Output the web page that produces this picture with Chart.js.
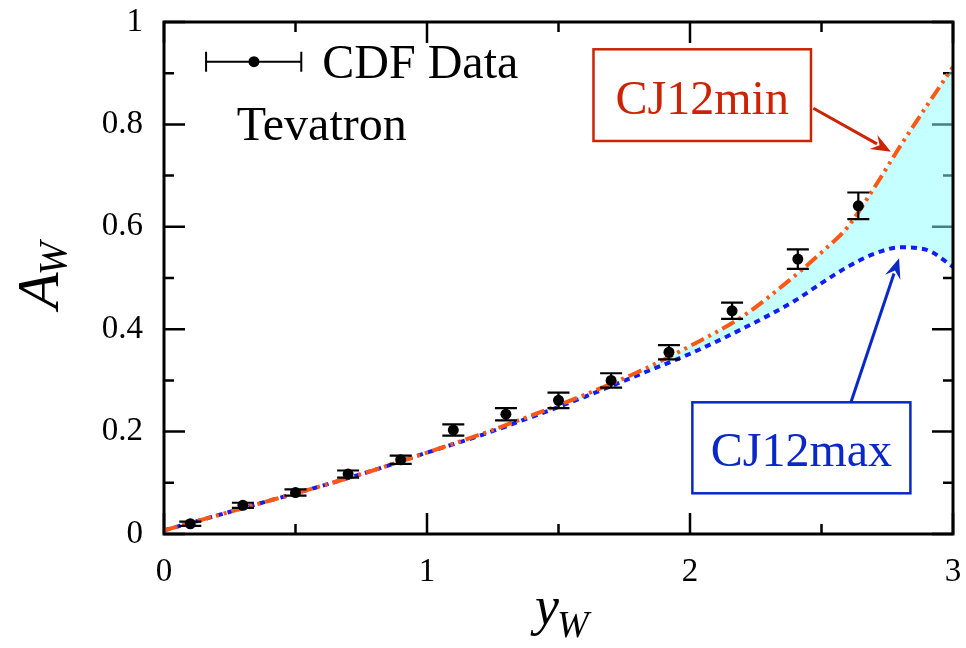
<!DOCTYPE html>
<html><head><meta charset="utf-8">
<script src="https://cdn.jsdelivr.net/npm/chart.js@4.4.1/dist/chart.umd.min.js"></script>
<style>html,body{margin:0;padding:0;background:#fff}#wrap{width:966px;height:648px;position:relative}</style>
</head><body><div id="wrap"><canvas id="c" width="966" height="648"></canvas></div>
<script>
// ---- data ----
const curveX   = [0, 0.2, 0.4, 0.6, 0.8, 1.0, 1.2, 1.4, 1.6, 1.8, 2.0, 2.2, 2.4, 2.5, 2.6, 2.7, 2.8, 2.9, 3.0];
const minCurve = [0.007, 0.036, 0.065, 0.094, 0.125, 0.159, 0.194, 0.232, 0.272, 0.316, 0.367, 0.425, 0.505, 0.550, 0.600, 0.676, 0.758, 0.836, 0.912];
const maxCurve = [0.007, 0.036, 0.065, 0.094, 0.125, 0.159, 0.192, 0.229, 0.268, 0.310, 0.352, 0.401, 0.456, 0.490, 0.522, 0.547, 0.560, 0.555, 0.522];
const cdfX   = [0.1, 0.3, 0.5, 0.7, 0.9, 1.1, 1.3, 1.5, 1.7, 1.92, 2.16, 2.41, 2.64];
const cdfY   = [0.020, 0.056, 0.081, 0.117, 0.145, 0.203, 0.234, 0.261, 0.300, 0.355, 0.436, 0.537, 0.641];
const cdfErr = [0.004, 0.005, 0.006, 0.007, 0.008, 0.011, 0.012, 0.015, 0.014, 0.014, 0.016, 0.019, 0.026];
const xTickValues = [0, 1, 2, 3];
const yTickValues = [0, 0.2, 0.4, 0.6, 0.8, 1];
const legendLabel = 'CDF Data';
const experimentLabel = 'Tevatron';
const minLabel = 'CJ12min';
const maxLabel = 'CJ12max';

const SERIF = "'Liberation Serif','Times New Roman',serif";
const ORANGE = 'rgb(255,88,20)';
const BLUE = 'rgb(18,28,245)';
const RED_TXT = 'rgb(205,35,5)';
const BLUE_TXT = 'rgb(10,40,200)';

function arrow(ctx, x1, y1, x2, y2, color) {
  const ang = Math.atan2(y2 - y1, x2 - x1);
  const L = 20, W = 8;
  const bx = x2 - L * Math.cos(ang), by = y2 - L * Math.sin(ang);
  ctx.save();
  ctx.strokeStyle = color; ctx.fillStyle = color; ctx.lineWidth = 3;
  ctx.beginPath(); ctx.moveTo(x1, y1); ctx.lineTo(bx + 4 * Math.cos(ang), by + 4 * Math.sin(ang)); ctx.stroke();
  ctx.beginPath();
  ctx.moveTo(x2, y2);
  ctx.lineTo(bx + W * Math.sin(ang), by - W * Math.cos(ang));
  ctx.lineTo(bx + 0.35 * L * Math.cos(ang), by + 0.35 * L * Math.sin(ang));
  ctx.lineTo(bx - W * Math.sin(ang), by + W * Math.cos(ang));
  ctx.closePath(); ctx.fill();
  ctx.restore();
}

const decor = {
  id: 'decor',
  beforeDatasetsDraw(chart) {
    const { ctx, chartArea: a, scales: { x, y } } = chart;
    ctx.save();
    ctx.strokeStyle = '#000'; ctx.lineWidth = 2.5;
    ctx.beginPath();
    for (let i = 0; i <= 6; i++) {
      const v = i * 0.5, px = x.getPixelForValue(v), L = (i % 2 === 0) ? 21 : 10;
      ctx.moveTo(px, a.bottom); ctx.lineTo(px, a.bottom - L);
      ctx.moveTo(px, a.top); ctx.lineTo(px, a.top + L);
    }
    for (let i = 0; i <= 10; i++) {
      const v = i * 0.1, py = y.getPixelForValue(v), L = (i % 2 === 0) ? 21 : 10;
      ctx.moveTo(a.left, py); ctx.lineTo(a.left + L, py);
      ctx.moveTo(a.right, py); ctx.lineTo(a.right - L, py);
    }
    ctx.stroke();
    ctx.restore();
  },
  afterDatasetsDraw(chart) {
    const { ctx, chartArea: a, scales: { x, y } } = chart;
    ctx.save();
    // error bars
    ctx.strokeStyle = '#000'; ctx.lineWidth = 2.2;
    ctx.beginPath();
    cdfX.forEach((xv, i) => {
      const px = x.getPixelForValue(xv);
      const p1 = y.getPixelForValue(cdfY[i] + cdfErr[i]);
      const p2 = y.getPixelForValue(cdfY[i] - cdfErr[i]);
      ctx.moveTo(px, p1); ctx.lineTo(px, p2);
      ctx.moveTo(px - 11, p1); ctx.lineTo(px + 11, p1);
      ctx.moveTo(px - 11, p2); ctx.lineTo(px + 11, p2);
    });
    ctx.stroke();
    // frame
    ctx.lineWidth = 3;
    ctx.strokeRect(a.left, a.top, a.right - a.left, a.bottom - a.top);

    // legend entry
    const lx1 = x.getPixelForValue(0.16), lx2 = x.getPixelForValue(0.522), ly = y.getPixelForValue(0.9225);
    const lxc = x.getPixelForValue(0.342);
    ctx.lineWidth = 2;
    ctx.beginPath();
    ctx.moveTo(lx1, ly); ctx.lineTo(lx2, ly);
    ctx.moveTo(lx1, ly - 10); ctx.lineTo(lx1, ly + 10);
    ctx.moveTo(lx2, ly - 10); ctx.lineTo(lx2, ly + 10);
    ctx.stroke();
    ctx.beginPath(); ctx.arc(lxc, ly, 5.5, 0, Math.PI * 2); ctx.fillStyle = '#000'; ctx.fill();
    ctx.font = '48px ' + SERIF; ctx.textBaseline = 'alphabetic'; ctx.textAlign = 'left';
    ctx.fillText(legendLabel, x.getPixelForValue(0.602), y.getPixelForValue(0.8906));
    ctx.fillText(experimentLabel, x.getPixelForValue(0.277), y.getPixelForValue(0.7695));

    // CJ12min box
    let bl = x.getPixelForValue(1.633), br = x.getPixelForValue(2.460), bt = y.getPixelForValue(0.9467), bb = y.getPixelForValue(0.7676);
    ctx.fillStyle = '#fff'; ctx.fillRect(bl, bt, br - bl, bb - bt);
    ctx.strokeStyle = RED_TXT; ctx.lineWidth = 2.5; ctx.strokeRect(bl, bt, br - bl, bb - bt);
    ctx.fillStyle = RED_TXT; ctx.textAlign = 'center';
    ctx.fillText(minLabel, (bl + br) / 2, y.getPixelForValue(0.820));
    arrow(ctx, x.getPixelForValue(2.469), y.getPixelForValue(0.8315), x.getPixelForValue(2.764), y.getPixelForValue(0.7467), RED_TXT);

    // CJ12max box
    bl = x.getPixelForValue(2.009); br = x.getPixelForValue(2.838); bt = y.getPixelForValue(0.2572); bb = y.getPixelForValue(0.0795);
    ctx.fillStyle = '#fff'; ctx.fillRect(bl, bt, br - bl, bb - bt);
    ctx.strokeStyle = BLUE_TXT; ctx.lineWidth = 2.5; ctx.strokeRect(bl, bt, br - bl, bb - bt);
    ctx.fillStyle = BLUE_TXT; ctx.textAlign = 'center';
    ctx.fillText(maxLabel, (bl + br) / 2, y.getPixelForValue(0.1328));
    arrow(ctx, x.getPixelForValue(2.612), bt, x.getPixelForValue(2.795), y.getPixelForValue(0.5385), BLUE_TXT);
    ctx.restore();
  },
  afterDraw(chart) {
    const { ctx } = chart;
    ctx.save();
    ctx.fillStyle = '#000'; ctx.textAlign = 'left'; ctx.textBaseline = 'alphabetic';
    // y title A_W
    ctx.translate(58, 309);
    ctx.rotate(-Math.PI / 2);
    ctx.font = 'italic 60px ' + SERIF;
    ctx.fillText('A', 0, 0);
    const wA = ctx.measureText('A').width;
    ctx.font = 'italic 40px ' + SERIF;
    ctx.fillText('W', wA - 3, 8);
    ctx.restore();
    ctx.save();
    ctx.fillStyle = '#000'; ctx.textAlign = 'left'; ctx.textBaseline = 'alphabetic';
    ctx.font = 'italic 54px ' + SERIF;
    ctx.fillText('y', 535, 624);
    const wy = ctx.measureText('y').width;
    ctx.font = 'italic 38px ' + SERIF;
    ctx.fillText('W', 535 + wy - 2, 637);
    ctx.restore();
  }
};

function zeroPad(s) { s.paddingTop = 0; s.paddingBottom = 0; s.paddingLeft = 0; s.paddingRight = 0; }

new Chart(document.getElementById('c'), {
  type: 'line',
  data: {
    datasets: [
      { label: legendLabel, data: cdfX.map((v, i) => ({ x: v, y: cdfY[i] })), showLine: false,
        pointRadius: 5.5, pointBackgroundColor: '#000', pointBorderColor: '#000', pointBorderWidth: 0, order: 0 },
      { label: minLabel, data: curveX.map((v, i) => ({ x: v, y: minCurve[i] })), pointRadius: 0,
        borderColor: ORANGE, borderWidth: 4, borderDash: [14, 5, 3, 5, 3, 5], fill: false,
        cubicInterpolationMode: 'monotone', order: 1 },
      { label: maxLabel, data: curveX.map((v, i) => ({ x: v, y: maxCurve[i] })), pointRadius: 0,
        borderColor: BLUE, borderWidth: 4, borderDash: [6, 5], fill: 1,
        backgroundColor: 'rgba(140,255,255,0.5)', cubicInterpolationMode: 'monotone', order: 2 }
    ]
  },
  options: {
    responsive: false, animation: false, devicePixelRatio: 1,
    layout: { padding: { left: 0, right: 13, top: 22, bottom: 0 } },
    plugins: { legend: { display: false }, tooltip: { enabled: false }, filler: { propagate: false } },
    scales: {
      x: { type: 'linear', min: 0, max: 3,
        afterBuildTicks(s) { s.ticks = xTickValues.map(v => ({ value: v })); },
        ticks: { font: { family: SERIF, size: 33 }, color: '#000', padding: 19, maxRotation: 0, callback: v => String(v) },
        grid: { display: false, drawTicks: false }, border: { display: false },
        afterFit(s) { s.height = 114; zeroPad(s); } },
      y: { type: 'linear', min: 0, max: 1,
        afterBuildTicks(s) { s.ticks = yTickValues.map(v => ({ value: v })); },
        ticks: { font: { family: SERIF, size: 33 }, color: '#000', padding: 21, callback: v => String(v) },
        grid: { display: false, drawTicks: false }, border: { display: false },
        afterFit(s) { s.width = 164; zeroPad(s); } }
    }
  },
  plugins: [decor]
});
</script></body></html>
